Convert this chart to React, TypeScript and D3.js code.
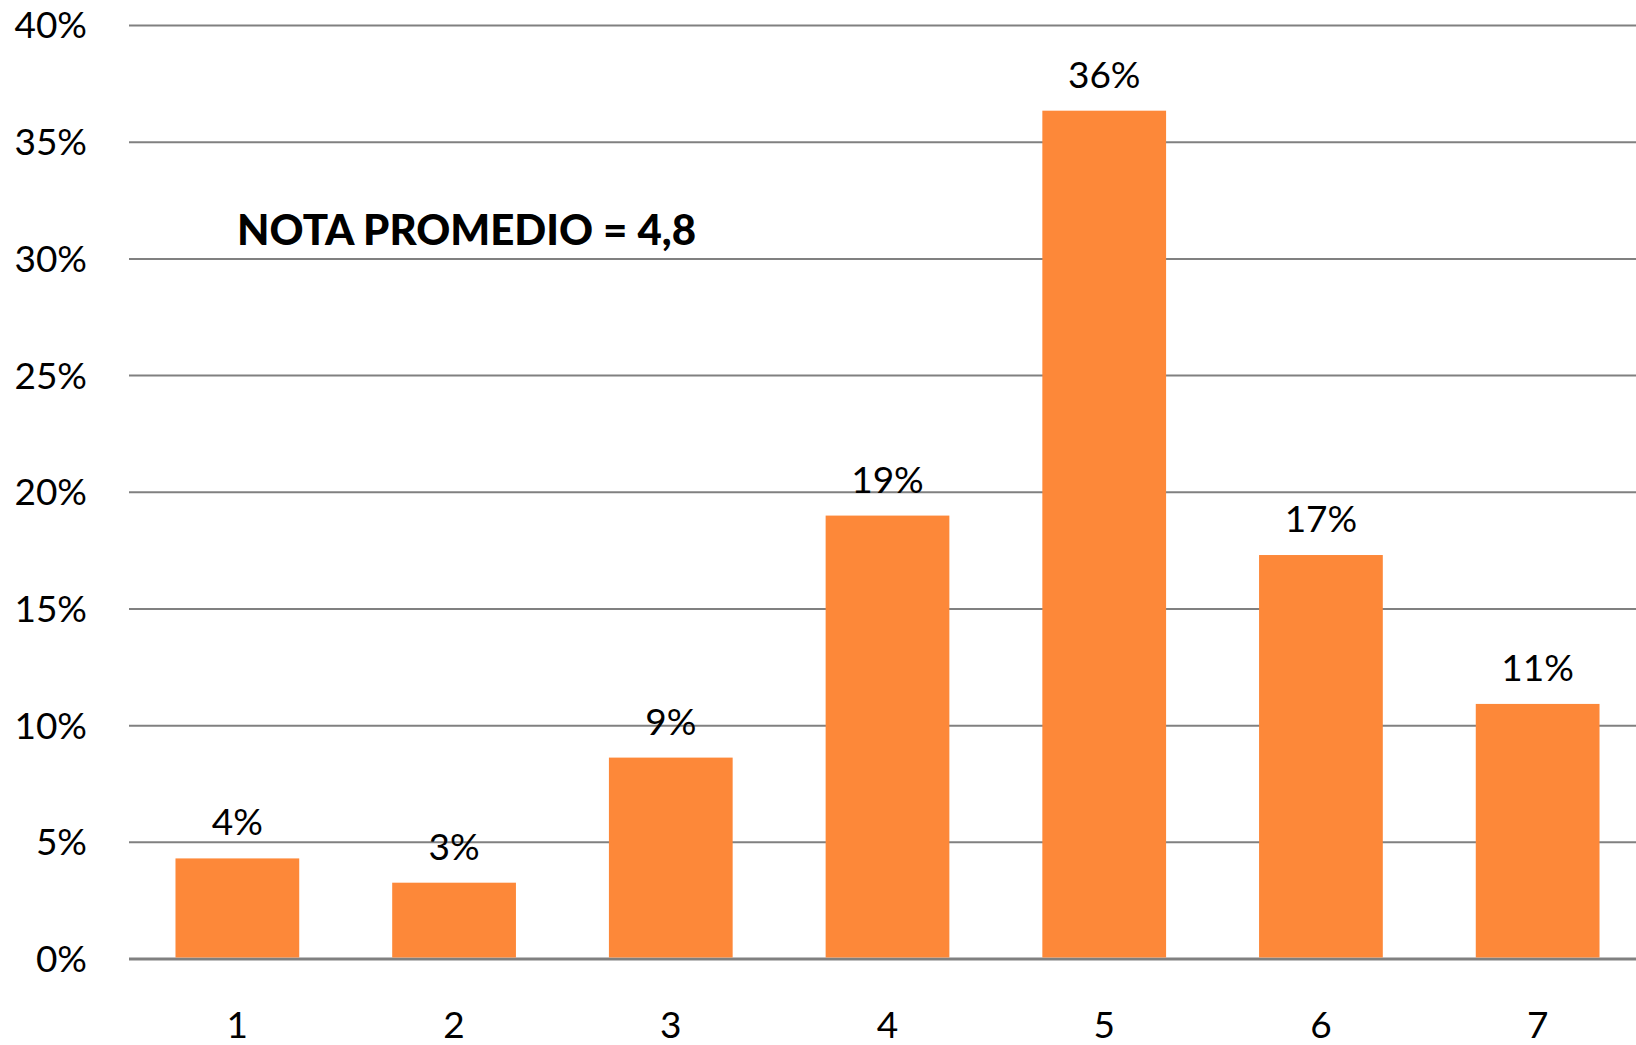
import React from "react";
import * as d3 from "d3";

const categories = ["1", "2", "3", "4", "5", "6", "7"];
const values = [4.31, 3.27, 8.63, 19.0, 36.35, 17.31, 10.93];
const valueLabels = ["4%", "3%", "9%", "19%", "36%", "17%", "11%"];
const yTicks = [0, 5, 10, 15, 20, 25, 30, 35, 40];
const annotation = "NOTA PROMEDIO = 4,8";

const W = 1636;
const H = 1045;
const left = 129;
const right = 1646;
const top = 25.5;
const bottom = 959;
const FONT = "Lato, 'Open Sans', sans-serif";

export default function App() {
  const x = d3.scaleBand<string>().domain(categories).range([left, right]).paddingInner(0.429).paddingOuter(0.2145);
  const y = d3.scaleLinear().domain([0, 40]).range([bottom, top]);
  return (
    <svg width={W} height={H} style={{ position: "absolute", left: 0, top: 0, background: "#fff" }}>
      {yTicks.map((t) => (
        <g key={t}>
          <line x1={left} x2={W} y1={y(t)} y2={y(t)} stroke="#808080" strokeWidth={t === 0 ? 3 : 2} />
          <text x={87} y={y(t)} dy="0.35em" textAnchor="end" fontFamily={FONT} fontSize={37} fill="#000">
            {t + "%"}
          </text>
        </g>
      ))}
      {categories.map((c, i) => (
        <g key={c}>
          <rect x={x(c)} y={y(values[i])} width={x.bandwidth()} height={y(0) - y(values[i]) - 1.5} fill="#FD8839" />
          <text x={x(c)! + x.bandwidth() / 2} y={y(values[i]) - 23} textAnchor="middle" fontFamily={FONT} fontSize={37} fill="#000">
            {valueLabels[i]}
          </text>
          <text x={x(c)! + x.bandwidth() / 2} y={1038} textAnchor="middle" fontFamily={FONT} fontSize={37} fill="#000">
            {c}
          </text>
        </g>
      ))}
      <text x={237} y={245} fontFamily={FONT} fontWeight="900" fontSize={42} fill="#000">
        {annotation}
      </text>
    </svg>
  );
}
